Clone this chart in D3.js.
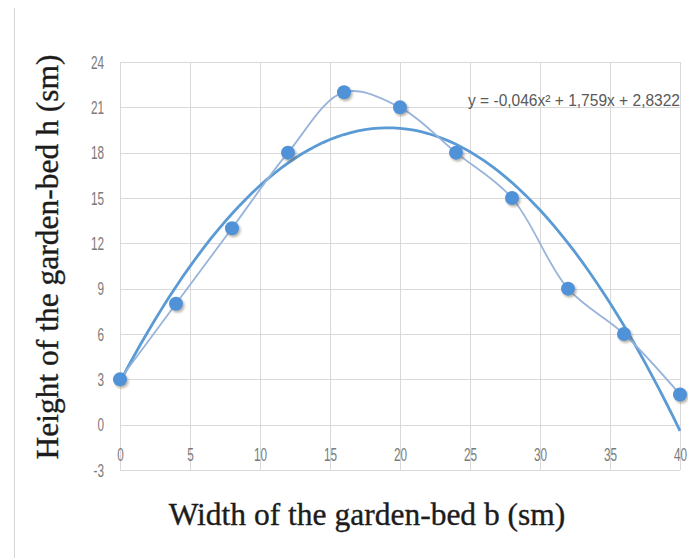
<!DOCTYPE html>
<meta charset="utf-8">
<style>
body { margin: 0; background: #fff; }
.grid line { stroke: #d9d9d9; stroke-width: 1; }
.tick text { font-family: "Liberation Sans", sans-serif; fill: #7a7a7a; font-size: 19px; }
.title { font-family: "Liberation Serif", "DejaVu Serif", serif; fill: #1c1c1c; font-size: 31.5px; stroke: #1c1c1c; stroke-width: 0.35; }
</style>
<body>
<svg class="chart js-chart"></svg>

<script src="https://d3js.org/d3.v7.min.js"></script>
<script type="text/javascript">
"use strict";

var widths = [0, 4, 8, 12, 16, 20, 24, 28, 32, 36, 40];
var heights = [3, 8, 13, 18, 22, 21, 18, 15, 9, 6, 2];
var xTicks = [0, 5, 10, 15, 20, 25, 30, 35, 40];
var yTicks = [-3, 0, 3, 6, 9, 12, 15, 18, 21, 24];
// trendline coefficients from the chart label: a*x^2 + b*x + c
var trend = [-0.046, 1.759, 2.8322];
var trendLabel = "y = -0,046x² + 1,759x + 2,8322";

var width = 688, height = 558;

var svg = d3.select('.js-chart')
  .attr('width', width)
  .attr('height', height);

var defs = svg.append('defs');
var shadow = defs.append('filter').attr('id', 'shadow')
  .attr('x', '-50%').attr('y', '-50%').attr('width', '200%').attr('height', '200%');
shadow.append('feDropShadow')
  .attr('dx', 1.5).attr('dy', 2).attr('stdDeviation', 1.2)
  .attr('flood-color', '#6b5a3a').attr('flood-opacity', 0.45);

var x = d3.scaleLinear().domain([0, 40]).range([120, 680]);
var y = d3.scaleLinear().domain([-3, 24]).range([470, 62]);

// page border on the left
svg.append('line')
  .attr('x1', 14.5).attr('x2', 14.5).attr('y1', 8).attr('y2', height)
  .attr('stroke', '#d6d6d6');

var grid = svg.append('g').attr('class', 'grid');
grid.selectAll('.h').data(yTicks).enter().append('line')
  .attr('x1', x(0)).attr('x2', x(40))
  .attr('y1', function (d) { return Math.round(y(d)) + 0.5; })
  .attr('y2', function (d) { return Math.round(y(d)) + 0.5; });
grid.selectAll('.v').data(xTicks).enter().append('line')
  .attr('y1', y(24)).attr('y2', y(-3))
  .attr('x1', function (d) { return Math.round(x(d)) + 0.5; })
  .attr('x2', function (d) { return Math.round(x(d)) + 0.5; });

var plain = function (d) { return String(d); };

// y tick labels
svg.append('g')
  .attr('transform', 'translate(' + (x(0) - 16) + ',0)')
  .call(d3.axisLeft(y).tickValues(yTicks).tickFormat(plain).tickSize(0).tickPadding(0))
  .call(function (g) { g.select('.domain').remove(); });

// x tick labels sit just above the bottom grid line
svg.append('g')
  .attr('transform', 'translate(0,' + (y(-3) - 23) + ')')
  .call(d3.axisBottom(x).tickValues(xTicks).tickFormat(plain).tickSize(0).tickPadding(0))
  .call(function (g) { g.select('.domain').remove(); });

svg.selectAll('.tick text')
  .attr('font-family', null).attr('font-size', null).attr('fill', null)
  .attr('transform', 'scale(0.62,1)');

// trendline
var trendPts = d3.range(0, 40.01, 0.5).map(function (v) {
  return [v, trend[0] * v * v + trend[1] * v + trend[2]];
});
svg.append('path')
  .datum(trendPts)
  .attr('fill', 'none')
  .attr('stroke', '#5b9bd5')
  .attr('stroke-width', 2.8)
  .attr('d', d3.line()
    .x(function (d) { return x(d[0]); })
    .y(function (d) { return y(d[1]); }));

// smoothed data line
var data = widths.map(function (w, i) { return { w: w, h: heights[i] }; });
svg.append('path')
  .datum(data)
  .attr('fill', 'none')
  .attr('stroke', '#98b4da')
  .attr('stroke-width', 1.8)
  .attr('d', d3.line()
    .curve(d3.curveCatmullRom.alpha(0.5))
    .x(function (d) { return x(d.w); })
    .y(function (d) { return y(d.h); }));

svg.selectAll('.dot').data(data).enter().append('circle')
  .attr('cx', function (d) { return x(d.w); })
  .attr('cy', function (d) { return y(d.h); })
  .attr('r', 7)
  .attr('fill', '#4f92d8')
  .attr('filter', 'url(#shadow)');

// equation label
svg.append('text')
  .attr('x', 468).attr('y', 106)
  .attr('textLength', 212)
  .attr('lengthAdjust', 'spacingAndGlyphs')
  .style('font-family', '"Liberation Sans", sans-serif')
  .style('font-size', '16px')
  .style('fill', '#595959')
  .text(trendLabel);

// axis titles
svg.append('text')
  .attr('class', 'title')
  .attr('text-anchor', 'middle')
  .attr('transform', 'translate(58,257) rotate(-90)')
  .text('Height of the garden-bed h (sm)');

svg.append('text')
  .attr('class', 'title')
  .attr('text-anchor', 'middle')
  .attr('x', 367).attr('y', 525)
  .text('Width of the garden-bed b (sm)');
</script>
</body>
